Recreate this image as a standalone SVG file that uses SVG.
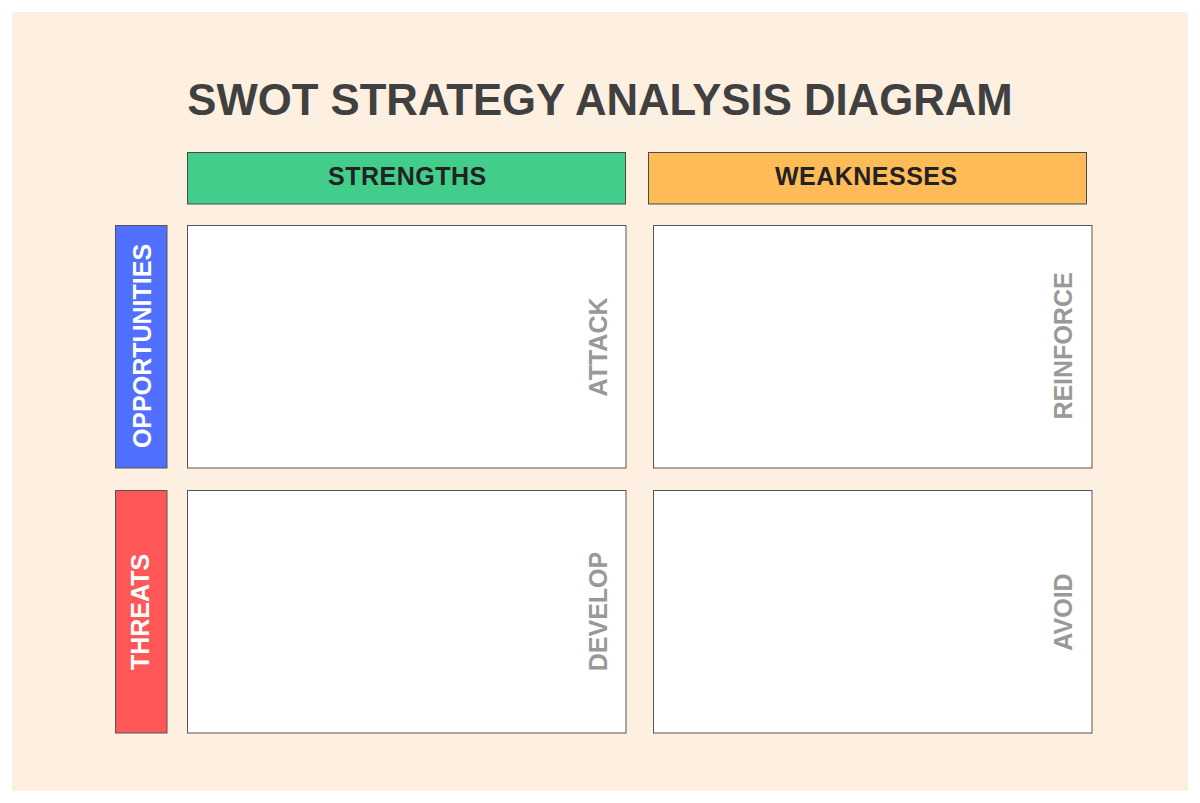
<svg xmlns="http://www.w3.org/2000/svg" width="1200" height="803" viewBox="0 0 1200 803">
<style>
.box{fill:#ffffff;stroke:#555555;stroke-width:1}
.hdr{stroke:#4a4a4a;stroke-width:1}
.side{stroke:#555555;stroke-width:1}
.title{font-family:"Liberation Sans",Arial,sans-serif;font-weight:bold;font-size:43.7px;fill:#404040}
.htxt{font-family:"Liberation Sans",Arial,sans-serif;font-weight:bold;font-size:25px;fill:#222222;letter-spacing:0.5px}
.stxt{font-family:"Liberation Sans",Arial,sans-serif;font-weight:bold;font-size:25px;fill:#ffffff}
.qtxt{font-family:"Liberation Sans",Arial,sans-serif;font-weight:bold;font-size:25px;fill:#999999}
</style>
<rect x="0" y="0" width="1200" height="803" fill="#ffffff"/>
<rect x="12" y="12" width="1176" height="779" fill="#FDF0E0"/>
<g id="title"><text class="title" x="600" y="114.5" text-anchor="middle">SWOT STRATEGY ANALYSIS DIAGRAM</text></g>
<g id="strengths"><rect class="hdr" x="187.5" y="152.5" width="438" height="51.5" fill="#43CD8A"/><text class="htxt" x="407.3" y="184.5" text-anchor="middle">STRENGTHS</text></g>
<g id="weaknesses"><rect class="hdr" x="648.5" y="152.5" width="438" height="51.5" fill="#FFBB57"/><text class="htxt" x="866.3" y="184.5" text-anchor="middle">WEAKNESSES</text></g>
<g id="opportunities"><rect class="side" x="115.5" y="225.5" width="51.5" height="242.5" fill="#5170FF"/><text class="stxt" transform="translate(151,346) rotate(-90)" text-anchor="middle">OPPORTUNITIES</text></g>
<g id="threats"><rect class="side" x="115.5" y="490.5" width="51.5" height="242.5" fill="#FF5757"/><text class="stxt" transform="translate(149,612) rotate(-90)" text-anchor="middle">THREATS</text></g>
<g id="attack"><rect class="box" x="187.5" y="225.5" width="438.5" height="242.5"/><text class="qtxt" transform="translate(607,347) rotate(-90)" text-anchor="middle">ATTACK</text></g>
<g id="reinforce"><rect class="box" x="653.5" y="225.5" width="438.5" height="242.5"/><text class="qtxt" transform="translate(1072,346) rotate(-90)" text-anchor="middle">REINFORCE</text></g>
<g id="develop"><rect class="box" x="187.5" y="490.5" width="438.5" height="242.5"/><text class="qtxt" transform="translate(607,611.5) rotate(-90)" text-anchor="middle">DEVELOP</text></g>
<g id="avoid"><rect class="box" x="653.5" y="490.5" width="438.5" height="242.5"/><text class="qtxt" transform="translate(1072,612) rotate(-90)" text-anchor="middle">AVOID</text></g>
<g id="connectors"></g>
</svg>
